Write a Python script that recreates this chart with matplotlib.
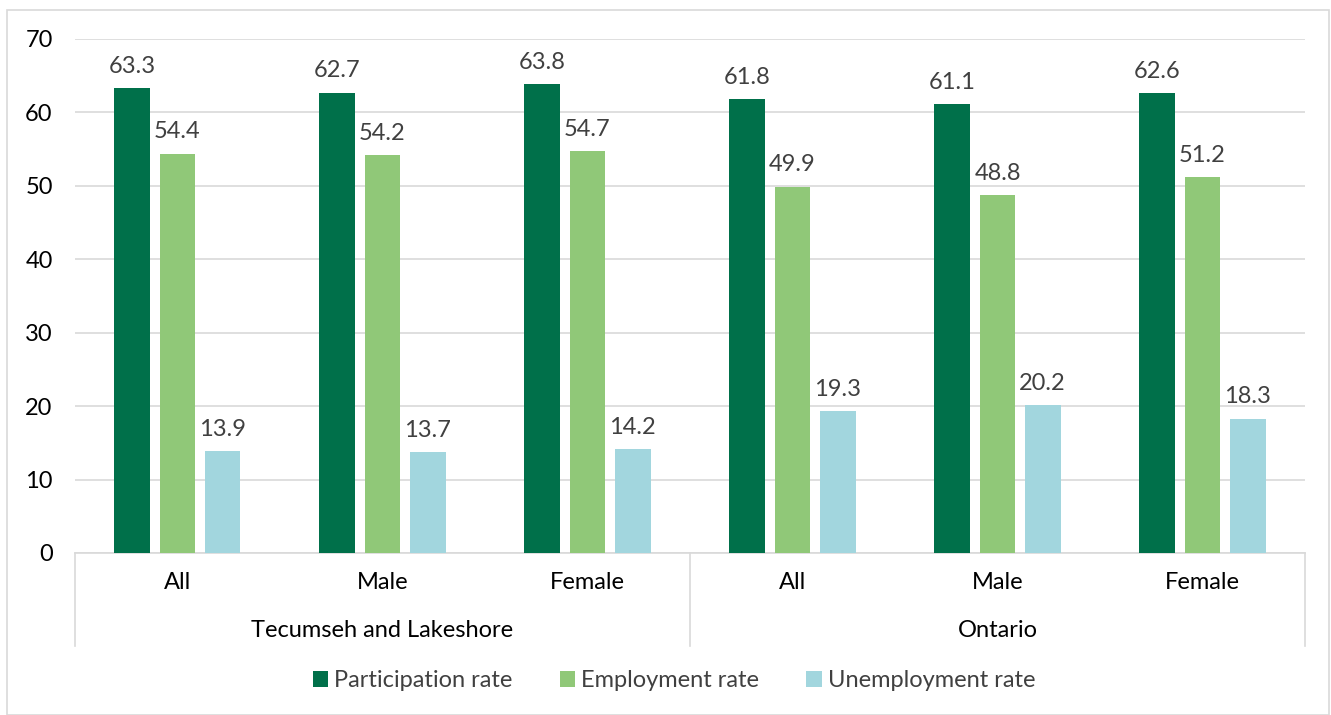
import matplotlib
matplotlib.use("Agg")
import matplotlib.pyplot as plt
from matplotlib.patches import Rectangle
import numpy as np

plt.rcParams['font.family'] = ['Lato', 'DejaVu Sans']

# labour force rates by area and sex
groups = ['Tecumseh and Lakeshore', 'Ontario']
sexes = ['All', 'Male', 'Female']
series = ['Participation rate', 'Employment rate', 'Unemployment rate']
participation = [63.3, 62.7, 63.8, 61.8, 61.1, 62.6]
employment = [54.4, 54.2, 54.7, 49.9, 48.8, 51.2]
unemployment = [13.9, 13.7, 14.2, 19.3, 20.2, 18.3]
colors = ['#00704A', '#90C878', '#A2D6DE']

fig = plt.figure(figsize=(13.31, 7.15), dpi=100)
ax = fig.add_axes([0.0563, 0.2266, 0.9242, 0.7189])

# light frame round the whole figure
fig.patches.append(Rectangle((7 / 1331, 0), 1322 / 1331, 705 / 715, transform=fig.transFigure,
                             fill=False, edgecolor='#D9D9D9', linewidth=1.2))

x = np.arange(len(participation))
width = 0.175
step = 0.22
for i, (vals, name) in enumerate(zip([participation, employment, unemployment], series)):
    bars = ax.bar(x + (i - 1) * step, vals, width, color=colors[i], label=name, zorder=3)
    for b, v in zip(bars, vals):
        ax.annotate(f'{v:.1f}', (b.get_x() + b.get_width() / 2, v), xytext=(0, 8),
                    textcoords='offset points', ha='center', va='bottom',
                    fontsize=17, color='#404040')

ax.set_xlim(-0.5, len(x) - 0.5)
ax.set_ylim(0, 70)
ax.set_yticks(range(0, 71, 10))
ax.yaxis.grid(True, color='#D9D9D9', linewidth=1.2, zorder=0)
ax.tick_params(axis='y', length=0, labelsize=17, pad=16)
ax.tick_params(axis='x', length=0, labelbottom=False)
for s in ['top', 'right', 'left']:
    ax.spines[s].set_visible(False)
ax.spines['bottom'].set_color('#D9D9D9')
ax.spines['bottom'].set_linewidth(1.2)

# two-level category axis
trans = ax.get_xaxis_transform()
for xi, lab in zip(x, sexes * len(groups)):
    ax.text(xi, -0.058, lab, transform=trans, ha='center', va='center', fontsize=17, color='black')
for gi, g in enumerate(groups):
    ax.text(gi * 3 + 1, -0.150, g, transform=trans, ha='center', va='center', fontsize=17, color='black')
for sep in [-0.5, 2.5, 5.5]:
    ax.plot([sep, sep], [0, -0.18], transform=trans, color='#D9D9D9', linewidth=1.2, clip_on=False)

leg = ax.legend(loc='center', bbox_to_anchor=(0.487, -0.249), ncol=3, frameon=False,
                fontsize=17, handlelength=0.65, handleheight=0.65, handletextpad=0.25, columnspacing=2.0)
for t in leg.get_texts():
    t.set_color('#404040')

fig.savefig('out.png', dpi=100)
